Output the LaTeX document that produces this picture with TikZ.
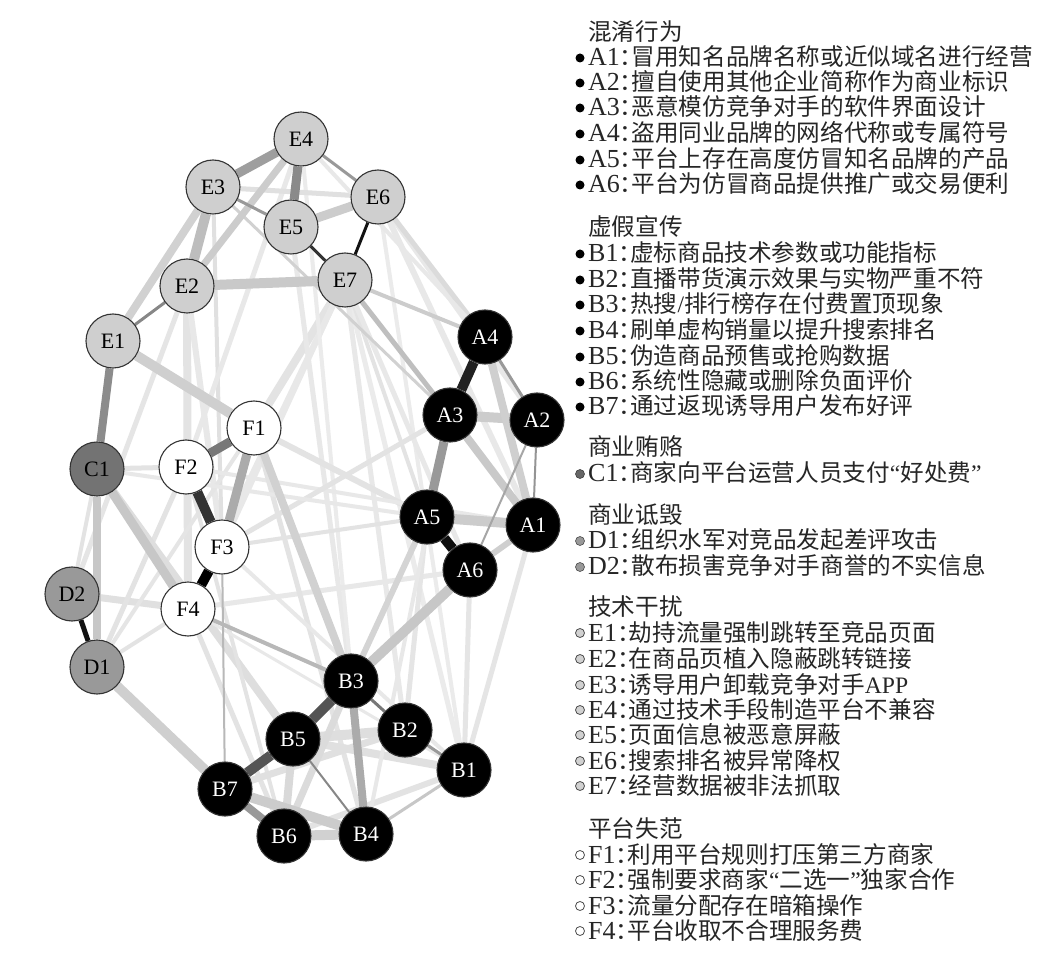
\documentclass[tikz,border=0pt]{standalone}
\usepackage{fontspec}
\setmainfont{Liberation Serif}
\newfontfamily\cjk{Noto Sans CJK SC}
\newfontfamily\cjkh[RawFeature=+halt]{Noto Sans CJK SC}
\newfontfamily\lat{Liberation Serif}
\usetikzlibrary{backgrounds}
\tikzset{
  nd/.style={circle, minimum size=54pt, inner sep=0pt, draw=black!80, line width=1.1pt, font=\fontsize{22}{22}\selectfont},
  ne/.style={nd, fill=black!19},
  nf/.style={nd, fill=white},
  nc/.style={nd, fill=black!55},
  ndd/.style={nd, fill=black!40},
  nab/.style={nd, fill=black, text=white},
  lnk/.style 2 args={line width=#1pt, draw=black!#2},
  lgt/.style={anchor=base west, inner sep=0pt, font=\fontsize{23.6}{24}\selectfont, text=black!85},
  bul/.style={circle, inner sep=0pt, minimum size=9pt},
  bab/.style={bul, fill=black},
  bc/.style={bul, fill=black!60, draw=black!75, line width=0.6pt},
  bd/.style={bul, fill=black!40, draw=black!70, line width=0.6pt},
  be/.style={bul, fill=black!18, draw=black!70, line width=0.8pt},
  bf/.style={bul, fill=white, draw=black!70, line width=0.8pt},
}
\newcommand{\lgline}[5]{%
  \node[#3] (b#1) at (580,#2) {};
  \node[lgt] (t#1) at (588,#2+8) {{\fontsize{26}{24}\selectfont #4}{\cjkh ：}{\cjk #5}};}
\newcommand{\lghead}[3]{\node[lgt] (#1) at (588,#2+8) {\cjk #3};}
\begin{document}
\begin{tikzpicture}[x=1pt,y=-1pt]
\useasboundingbox (0,0) rectangle (1045,965);
% nodes
\node[ne] (E4) at (301,139) {E4};
\node[ne] (E3) at (213,187) {E3};
\node[ne] (E6) at (378,197) {E6};
\node[ne] (E5) at (291,227) {E5};
\node[ne] (E2) at (187,286) {E2};
\node[ne] (E7) at (345,280) {E7};
\node[ne] (E1) at (113,341) {E1};
\node[nf] (F1) at (254,428) {F1};
\node[nf] (F2) at (186,467) {F2};
\node[nc] (C1) at (97,469) {C1};
\node[nf] (F3) at (222,547) {F3};
\node[nf] (F4) at (188,609) {F4};
\node[ndd] (D2) at (72,594) {D2};
\node[ndd] (D1) at (97,667) {D1};
\node[nab] (A4) at (485,337) {A4};
\node[nab] (A3) at (450,415) {A3};
\node[nab] (A2) at (537,420) {A2};
\node[nab] (A5) at (427,517) {A5};
\node[nab] (A1) at (533,525) {A1};
\node[nab] (A6) at (470,570) {A6};
\node[nab] (B3) at (351,681) {B3};
\node[nab] (B2) at (405,730) {B2};
\node[nab] (B5) at (293,739) {B5};
\node[nab] (B1) at (464,770) {B1};
\node[nab] (B7) at (225,789) {B7};
\node[nab] (B6) at (284,836) {B6};
\node[nab] (B4) at (366,834) {B4};
\begin{pgfonlayer}{background}
\fill[white] (0,0) rectangle (1045,965);
% very light edges
\foreach \a/\b/\w/\g in {E2/F4/8/11, E2/D2/5/10, E2/F3/6/9, E7/F1/8/11, E7/F3/5/9, E7/F4/6/9,
  E3/F3/4/12, E4/F2/5/9, E5/B3/5/9, E4/B4/4/8, E6/A1/6/9, E6/A2/6/9, E6/B1/4/8, E7/B1/5/8,
  E7/B2/5/9, E7/A5/4/11, E7/A6/5/9, E3/A3/3/18, E3/E6/5/12, C1/F2/5/11, C1/D2/4/11,
  D2/F4/7/12, D1/F4/4/11, D1/F2/5/11, D1/F1/4/10, F4/B6/5/11, C1/B5/8/13, F1/A5/6/11,
  F2/A1/4/9, F3/A5/4/11, F4/A6/5/9, F3/A3/5/11, F2/B6/4/11, F1/B4/5/11, F3/B1/4/9,
  F4/B1/3/9, C1/A5/4/9, B5/B2/10/13, B5/B1/8/12, B7/B2/7/12, B6/B3/7/14, B5/B6/8/15,
  B6/B1/6/11, A6/B1/5/10, A1/B1/5/10, A5/B2/5/10, A3/B4/4/9, E6/A4/5/14, E4/A4/4/9}
  \draw[lnk={\w}{\g}] (\a) -- (\b);
% light edges
\foreach \a/\b/\w/\g in {E5/E6/9/20, E2/E7/10/21, E3/E2/10/26, E4/E2/7/20, E3/E1/8/18,
  E1/F1/10/19, C1/D1/8/22, C1/F4/9/22, D1/B7/10/19, F1/B3/8/18, A3/A2/10/20, A5/A1/10/20,
  A3/A1/8/21, A4/A1/8/19, A1/A6/6/19, A6/B3/10/22, A5/B3/6/17, E7/A3/5/25, E7/A4/4/20,
  B7/B4/10/20, B6/B4/10/18, B4/B1/3/22}
  \draw[lnk={\w}{\g}] (\a) -- (\b);
% darker edges
\foreach \a/\b/\w/\g in {E4/E3/9/38, E4/E5/9/46, E4/E6/3/40, E3/E5/3/40, E5/E7/3/80,
  E6/E7/3/93, E1/E2/3/47, E1/C1/8/45, D2/D1/5/93, F1/F2/9/53, F1/F3/9/33, F2/F3/10/80,
  F3/F4/10/100, F4/B3/4/28, B7/F3/2/28, A4/A3/10/87, A4/A2/3/40, A3/A5/9/40, A5/A6/10/95,
  A2/A1/2/42, A2/A6/2/35, B3/B5/10/67, B5/B7/10/67, B3/B4/8/33, B3/B2/3/53, B2/B1/3/40,
  B5/B4/2/47, B7/B6/8/40}
  \draw[lnk={\w}{\g}] (\a) -- (\b);
\end{pgfonlayer}
% legend
\lghead{hA}{33}{混淆行为}
\lgline{A1}{58}{bab}{A1}{冒用知名品牌名称或近似域名进行经营}
\lgline{A2}{83}{bab}{A2}{擅自使用其他企业简称作为商业标识}
\lgline{A3}{108}{bab}{A3}{恶意模仿竞争对手的软件界面设计}
\lgline{A4}{134}{bab}{A4}{盗用同业品牌的网络代称或专属符号}
\lgline{A5}{160}{bab}{A5}{平台上存在高度仿冒知名品牌的产品}
\lgline{A6}{185}{bab}{A6}{平台为仿冒商品提供推广或交易便利}
\lghead{hB}{228}{虚假宣传}
\lgline{B1}{254}{bab}{B1}{虚标商品技术参数或功能指标}
\lgline{B2}{280}{bab}{B2}{直播带货演示效果与实物严重不符}
\lgline{B3}{305}{bab}{B3}{热搜{\lat /}排行榜存在付费置顶现象}
\lgline{B4}{331}{bab}{B4}{刷单虚构销量以提升搜索排名}
\lgline{B5}{357}{bab}{B5}{伪造商品预售或抢购数据}
\lgline{B6}{382}{bab}{B6}{系统性隐藏或删除负面评价}
\lgline{B7}{407}{bab}{B7}{通过返现诱导用户发布好评}
\lghead{hC}{448}{商业贿赂}
\lgline{C1}{474}{bc}{C1}{商家向平台运营人员支付{\lat “}好处费{\lat ”}}
\lghead{hD}{516}{商业诋毁}
\lgline{D1}{541}{bd}{D1}{组织水军对竞品发起差评攻击}
\lgline{D2}{567}{bd}{D2}{散布损害竞争对手商誉的不实信息}
\lghead{hE}{607}{技术干扰}
\lgline{E1}{633}{be}{E1}{劫持流量强制跳转至竞品页面}
\lgline{E2}{659}{be}{E2}{在商品页植入隐蔽跳转链接}
\lgline{E3}{685}{be}{E3}{诱导用户卸载竞争对手{\lat APP}}
\lgline{E4}{710}{be}{E4}{通过技术手段制造平台不兼容}
\lgline{E5}{735}{be}{E5}{页面信息被恶意屏蔽}
\lgline{E6}{761}{be}{E6}{搜索排名被异常降权}
\lgline{E7}{786}{be}{E7}{经营数据被非法抓取}
\lghead{hF}{829}{平台失范}
\lgline{F1}{855}{bf}{F1}{利用平台规则打压第三方商家}
\lgline{F2}{880}{bf}{F2}{强制要求商家{\lat “}二选一{\lat ”}独家合作}
\lgline{F3}{906}{bf}{F3}{流量分配存在暗箱操作}
\lgline{F4}{931}{bf}{F4}{平台收取不合理服务费}
\end{tikzpicture}
\end{document}
